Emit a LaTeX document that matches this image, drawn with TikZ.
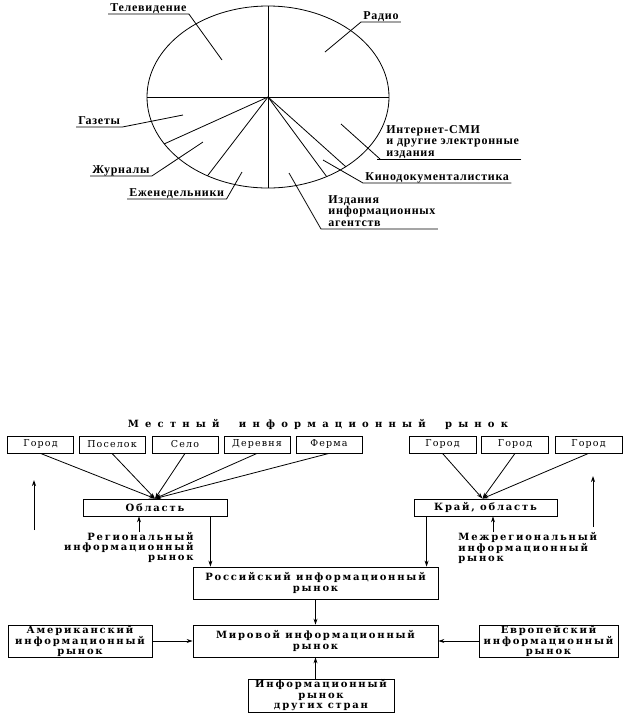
\documentclass[tikz,border=0pt]{standalone}
\usepackage{fontspec}
\setmainfont{Liberation Serif}
\newfontfamily\piefont[LetterSpace=6]{Liberation Serif}
\newfontfamily\townfont[LetterSpace=12]{DejaVu Serif}
\newfontfamily\mktfont[LetterSpace=18]{DejaVu Serif}
\newfontfamily\titlefont[LetterSpace=62,WordSpace=2]{DejaVu Serif}
\usetikzlibrary{arrows.meta,calc}

\begin{document}
\begin{tikzpicture}[x=1pt, y=-1pt, line width=0.8pt, >={Stealth[length=6pt,width=4pt]},
    lbl/.style={inner xsep=2pt, inner ysep=0.5pt, text depth=2pt, font={\piefont\bfseries\fontsize{12}{11.5}\selectfont}},
    town/.style={rectangle, draw, minimum width=66, minimum height=17, inner sep=0, font={\townfont\fontsize{9.5}{9.5}\selectfont}},
    mkt/.style={rectangle, draw, align=center, inner sep=0, font={\mktfont\bfseries\fontsize{10}{10.5}\selectfont}},
    txt/.style={inner sep=0, font={\mktfont\bfseries\fontsize{10}{10}\selectfont}}]
    \useasboundingbox (0,0) rectangle (629,716);

    % pie
    \coordinate (c) at (268,97);
    \draw (c) ellipse [x radius=121pt, y radius=91pt];
    \draw ($(c)+(180:121 and 91)$) -- ($(c)+(0:121 and 91)$);
    \draw ($(c)+(270:121 and 91)$) -- ($(c)+(90:121 and 91)$);
    \draw (c) -- ($(c)+(149:121 and 91)$);
    \draw (c) -- ($(c)+(120:121 and 91)$);
    \draw (c) -- ($(c)+(61:121 and 91)$);
    \draw (c) -- ($(c)+(50:121 and 91)$);

    \coordinate (tvp) at (222,60);
    \coordinate (radp) at (325,52);
    \coordinate (gazp) at (183,115);
    \coordinate (zhp) at (203,142);
    \coordinate (ezhp) at (242,172);
    \coordinate (inetp) at (341,124);
    \coordinate (kinop) at (323,160);
    \coordinate (agp) at (289,173);

    \node[lbl, anchor=south west] (tv) at (108,14) {Телевидение};
    \node[lbl, anchor=south west] (rad) at (361,22) {Радио};
    \node[lbl, anchor=south west] (gaz) at (76,127) {Газеты};
    \node[lbl, anchor=south west] (zh) at (90,176) {Журналы};
    \node[lbl, anchor=south west] (ezh) at (127,199) {Еженедельники};
    \node[lbl, anchor=south west, align=left] (inet) at (384,159) {Интернет-СМИ\\и другие электронные\\издания};
    \node[lbl, anchor=south west] (kino) at (363,183) {Кинодокументалистика};
    \node[lbl, anchor=south west, align=left] (ag) at (326,229) {Издания\\информационных\\агентств};

    \draw (tv.south west) -- (tv.south east) -- (tvp);
    \draw (rad.south east) -- (rad.south west) -- (radp);
    \draw (gaz.south west) -- (gaz.south east) -- (gazp);
    \draw (zh.south west) -- (zh.south east) -- (zhp);
    \draw (ezh.south west) -- (ezh.south east) -- (ezhp);
    \draw (inet.south east) -- ([xshift=-7pt]inet.south west);
    \draw ([xshift=-4pt]inet.south west) -- (inetp);
    \draw (kino.south east) -- (kino.south west) -- (kinop);
    \draw (ag.south east) -- ([xshift=-5pt]ag.south west) -- (agp);

    % market
    \node[font={\titlefont\bfseries\fontsize{10}{10}\selectfont}, inner sep=0] (title) at (318,424) {Местный информационный рынок};

    \node[town] (gor1) at (40.5,444.5) {Город};
    \node[town] (pos) at (112,444.5) {Поселок};
    \node[town] (selo) at (185,444.5) {Село};
    \node[town] (der) at (257,444.5) {Деревня};
    \node[town] (ferma) at (329,444.5) {Ферма};
    \node[town, minimum width=67] (gor2) at (442.5,444.5) {Город};
    \node[town, minimum width=67] (gor3) at (515,444.5) {Город};
    \node[town, minimum width=67] (gor4) at (588.5,444.5) {Город};

    \node[mkt, minimum width=144, minimum height=17] (obl) at (155,507.5) {Область};
    \node[mkt, minimum width=143, minimum height=17] (krai) at (485.5,507.5) {Край, область};

    \node[txt, anchor=north east, align=right] (reg) at (194,532) {Региональный\\информационный\\рынок};
    \node[txt, anchor=north west, align=left] (mezh) at (458,532) {Межрегиональный\\информационный\\рынок};

    \node[mkt, minimum width=245, minimum height=32] (ros) at (315.5,583) {Российский информационный\\рынок};
    \node[mkt, minimum width=245, minimum height=32] (mir) at (315.5,641) {Мировой информационный\\рынок};
    \node[mkt, minimum width=144, minimum height=32] (amer) at (80,641) {Американский\\информационный\\рынок};
    \node[mkt, minimum width=139, minimum height=32] (evro) at (548.5,641) {Европейский\\информационный\\рынок};
    \node[mkt, minimum width=146, minimum height=33] (other) at (321,695.5) {Информационный\\рынок\\других стран};

    \draw[->] (gor1.south) -- (obl.north);
    \draw[->] (pos.south) -- (obl.north);
    \draw[->] (selo.south) -- (obl.north);
    \draw[->] (der.south) -- (obl.north);
    \draw[->] (ferma.south) -- (obl.north);
    \draw[->] (gor2.south) -- ([xshift=-3pt]krai.north);
    \draw[->] (gor3.south) -- ([xshift=-3pt]krai.north);
    \draw[->] (gor4.south) -- ([xshift=-3pt]krai.north);

    \coordinate (oblup) at ([xshift=-16pt]obl.south);
    \coordinate (obldn) at ([xshift=-17pt]obl.south east);
    \coordinate (kraiup) at ([xshift=7.5pt]krai.south);
    \coordinate (kraidn) at ([xshift=13pt]krai.south west);
    \draw[->] (oblup |- reg.north) -- (oblup);
    \draw[->] (kraiup |- mezh.north) -- (kraiup);
    \draw[->] (obldn) -- (obldn |- ros.north);
    \draw[->] (kraidn) -- (kraidn |- ros.north);

    \coordinate (lfrom) at (34,530);
    \coordinate (lto) at (34,480);
    \coordinate (rfrom) at (593,527);
    \coordinate (rto) at (593,476);
    \draw[->] (lfrom) -- (lto);
    \draw[->] (rfrom) -- (rto);

    \draw[->] (ros) -- (mir);
    \draw[->] (amer) -- (mir);
    \draw[->] (evro) -- (mir);
    \draw[->] (other.north -| mir.south) -- (mir.south);
\end{tikzpicture}
\end{document}
